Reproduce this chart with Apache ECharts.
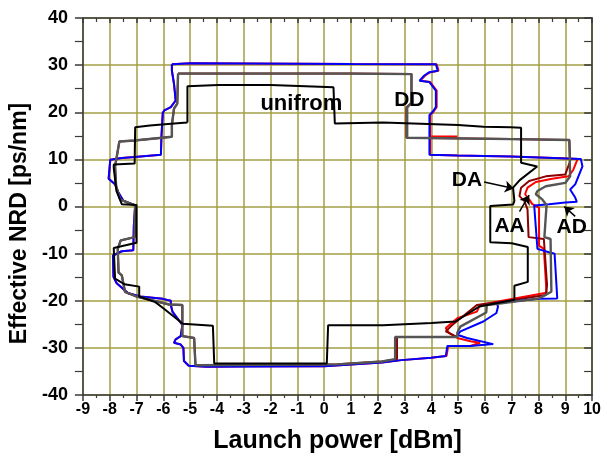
<!DOCTYPE html>
<html>
<head>
<meta charset="utf-8">
<script src="https://cdn.jsdelivr.net/npm/echarts@6/dist/echarts.min.js"></script>
<style>
  html, body { margin: 0; padding: 0; background: #ffffff; }
  #chart { width: 604px; height: 459px; }
</style>
</head>
<body>
<div id="chart"></div>
<script>
// Axis ranges
const xRange = [-9, 10];
const yRange = [-40, 40];

// Contour of the usable region for each dispersion map: [launch power dBm, NRD ps/nm]
const uniformCurve = [
  [-5.1,17.8],[-5.1,25.5],[-3.95,25.8],[-2.0,25.8],[-1.95,25.5],[0.35,25.3],[0.4,17.6],
  [2.2,17.8],[5.0,17.3],[5.95,16.9],[6.95,16.8],[7.35,16.7],[7.35,9.3],[7.95,8.5],
  [7.3,5.6],[7.05,4.0],[7.1,1.2],[7.05,0.4],[6.2,0.1],[6.2,-7.6],[7.0,-7.8],[7.6,-8.6],
  [7.6,-16.0],[7.1,-16.8],[7.1,-19.8],[5.8,-21.2],[4.9,-24.4],[4.0,-24.7],[2.2,-25.2],
  [0.15,-25.2],[0.1,-33.3],[-4.1,-33.3],[-4.15,-25.3],[-5.27,-24.9],[-6.0,-21.6],
  [-6.3,-20.3],[-6.9,-19.1],[-6.9,-17.0],[-7.45,-16.5],[-7.8,-15.3],[-7.85,-8.8],
  [-7.0,-7.7],[-7.0,0.3],[-7.55,0.5],[-7.75,3.3],[-7.85,8.2],[-7.85,8.9],[-7.07,9.1],
  [-7.05,16.8],[-6.5,17.2],[-5.6,17.6],[-5.1,17.8]
];

const ddCurve = [
  [-5.45,28.2],[1.0,28.2],[3.26,28.1],[3.26,22.0],[3.1,21.0],[3.1,14.6],[6.98,14.3],
  [9.15,14.1],[9.18,6.4],[9.0,5.0],[8.27,4.3],[7.96,3.3],[7.9,2.6],[8.14,1.5],[8.3,0.3],
  [8.22,-6.5],[8.45,-6.9],[8.48,-18.1],[8.02,-19.5],[6.55,-20.6],[6.07,-20.9],
  [6.05,-22.5],[5.08,-25.5],[4.97,-26.8],[4.97,-27.7],[2.65,-27.7],[2.65,-32.4],
  [2.16,-32.9],[0.5,-33.5],[-4.8,-33.7],[-4.85,-27.9],[-5.29,-27.5],[-5.29,-20.9],
  [-5.78,-20.8],[-7.0,-19.1],[-7.43,-18.1],[-7.55,-14.6],[-7.67,-14.0],[-7.7,-9.0],
  [-7.59,-7.2],[-7.07,-6.5],[-7.05,0.2],[-7.61,1.5],[-7.76,4.3],[-7.8,8.5],
  [-7.64,13.8],[-7.07,14.0],[-5.68,14.8],[-5.68,17.3],[-5.6,20.8],[-5.48,21.8],
  [-5.45,28.2]
];

const daCurve = [
  [-5.45,28.2],[1.0,28.2],[3.26,28.1],[3.26,22.0],[3.07,21.0],[3.07,14.6],[6.98,14.3],
  [9.15,14.1],[9.18,9.6],[9.0,6.8],[8.27,6.4],[7.65,5.4],[7.35,4.0],[7.29,2.2],
  [7.47,1.2],[7.59,-0.6],[7.63,-6.5],[8.2,-6.9],[8.32,-16.7],[8.27,-18.8],[6.5,-20.3],
  [5.7,-20.9],[4.79,-25.1],[4.54,-26.5],[4.97,-27.7],[2.72,-27.7],[2.72,-32.4],
  [2.16,-32.9],[0.5,-33.5],[-4.8,-33.7],[-4.85,-27.9],[-5.29,-27.5],[-5.29,-20.9],
  [-5.78,-20.8],[-7.0,-19.1],[-7.43,-18.1],[-7.55,-14.6],[-7.67,-14.0],[-7.7,-9.0],
  [-7.59,-7.2],[-7.07,-6.5],[-7.05,0.2],[-7.61,1.5],[-7.76,4.3],[-7.8,8.5],
  [-7.64,13.8],[-7.07,14.0],[-5.68,14.8],[-5.68,17.3],[-5.6,20.8],[-5.48,21.8],
  [-5.45,28.2]
];

const adCurve = [
  [-5.68,30.2],[-4.99,30.4],[1.06,30.25],[4.17,30.2],[4.24,28.8],[3.93,28.5],
  [3.74,27.8],[3.56,26.7],[3.93,26.4],[4.17,24.6],[4.17,21.1],[4.05,20.1],[3.93,19.4],
  [3.93,11.0],[4.97,10.8],[6.98,10.6],[9.58,10.1],[9.64,8.5],[9.49,6.4],[9.37,4.7],
  [9.18,3.6],[9.37,1.9],[9.43,1.0],[9.0,0.85],[8.39,0.5],[7.84,0.2],[7.96,-9.0],
  [8.39,-9.7],[8.6,-10.0],[8.7,-19.5],[8.02,-19.6],[6.43,-20.5],[6.49,-21.2],
  [6.43,-22.6],[5.94,-24.4],[5.09,-26.5],[4.97,-27.2],[5.33,-27.9],[6.31,-29.2],
  [5.46,-29.6],[4.6,-29.6],[4.54,-31.7],[3.99,-32.1],[2.89,-32.6],[2.16,-33.1],
  [0.0,-33.9],[-4.38,-34.0],[-5.05,-33.8],[-5.23,-32.8],[-5.25,-30.0],[-5.35,-29.3],
  [-5.6,-28.9],[-5.54,-28.2],[-5.35,-27.5],[-5.29,-25.1],[-5.66,-22.3],[-5.72,-20.9],
  [-5.72,-20.0],[-6.02,-19.6],[-6.86,-19.1],[-7.31,-18.4],[-7.74,-16.3],[-7.86,-14.9],
  [-7.88,-10.4],[-7.55,-9.5],[-7.12,-9.3],[-7.1,-4.1],[-7.05,0.3],[-7.12,0.5],
  [-7.49,1.2],[-7.67,2.9],[-7.8,4.7],[-8.04,5.9],[-7.98,9.9],[-7.55,10.3],[-7.07,10.5],
  [-6.09,11.0],[-6.07,14.8],[-6.02,19.9],[-5.96,20.4],[-5.72,21.1],[-5.54,22.5],
  [-5.6,26.0],[-5.68,28.8],[-5.68,30.2]
];

const aaCurve = [
  [-5.68,30.2],[-4.99,30.4],[1.06,30.25],[4.2,30.2],[4.27,28.8],[3.96,28.5],
  [3.77,27.8],[3.59,26.7],[3.96,26.4],[4.2,24.6],[4.2,21.1],[4.08,20.1],[3.96,19.4],
  [3.96,14.85],[4.97,14.85],[3.96,14.8],[3.96,11.0],[4.97,10.8],[6.98,10.6],
  [9.15,10.2],[9.46,10.1],[9.3,7.8],
  [9.12,6.4],[8.51,5.9],[7.9,5.2],[7.59,4.0],[7.5,2.6],[7.65,1.5],[7.77,0.5],
  [8.02,-0.3],[8.02,-8.3],[8.2,-9.0],[8.3,-18.3],[6.43,-20.2],[5.82,-20.9],[5.7,-22.3],
  [4.97,-23.7],[4.54,-25.8],[4.66,-26.8],[4.97,-27.9],[5.46,-28.6],[5.82,-28.9],
  [5.46,-29.6],[4.63,-29.6],[4.57,-31.7],[3.99,-32.1],[2.89,-32.6],[2.16,-33.1],
  [0.0,-33.9],[-2.2,-33.85],[-4.38,-34.0],[-5.05,-33.8],[-5.23,-32.8],[-5.25,-30.0],
  [-5.35,-29.3],[-5.6,-28.9],[-5.54,-28.2],[-5.35,-27.5],[-5.29,-25.1],[-5.66,-22.3],
  [-5.72,-20.9],[-5.72,-20.0],[-6.02,-19.6],[-6.86,-19.1],[-7.31,-18.4],[-7.74,-16.3],
  [-7.86,-14.9],[-7.88,-10.4],[-7.55,-9.5],[-7.12,-9.3],[-7.1,-4.1],[-7.05,0.3],
  [-7.12,0.5],[-7.49,1.2],[-7.67,2.9],[-7.8,4.7],[-8.04,5.9],[-7.98,9.9],[-7.55,10.3],
  [-7.07,10.5],[-6.09,11.0],[-6.07,14.8],[-6.02,19.9],[-5.96,20.4],[-5.72,21.1],
  [-5.54,22.5],[-5.6,26.0],[-5.68,28.8],[-5.68,30.2]
];

// Text annotations: [label, x, y, font size]
const annotations = [
  ['unifrom', -0.85, 21.7, 22],
  ['DD', 3.18, 22.5, 21],
  ['DA', 5.33, 5.6, 21],
  ['AA', 6.92, -4.1, 21],
  ['AD', 9.24, -4.4, 21]
];

// Arrows pointing from annotations to curves: [[x0, y0], [x1, y1]]
const arrows = [
  [[5.97, 5.2], [7.08, 3.8]],
  [[7.29, -1.1], [7.65, 2.4]],
  [[9.37, -2.1], [8.96, 0.0]]
];

const fontFamily = 'Arial, "Liberation Sans", sans-serif';
const gridColor = '#a39e45';
const axisColor = '#3a3a3a';
const tickFont = { fontFamily: fontFamily, fontWeight: 'bold', color: '#000' };

function curveSeries(data, color, width) {
  return {
    type: 'line',
    data: data,
    showSymbol: false,
    symbol: 'none',
    smooth: false,
    silent: true,
    lineStyle: { color: color, width: width },
    z: 3
  };
}

const chart = echarts.init(document.getElementById('chart'), null, { renderer: 'canvas' });

chart.setOption({
  animation: false,
  backgroundColor: '#ffffff',
  grid: { left: 75.5, right: 10, top: 18, bottom: 60, containLabel: false },
  xAxis: [
    {
      type: 'value', position: 'bottom', min: xRange[0], max: xRange[1], interval: 1,
      axisLine: { show: true, onZero: false, lineStyle: { color: axisColor, width: 1.5 } },
      axisTick: { show: true, inside: false, length: 6, lineStyle: { color: axisColor, width: 1.5 } },
      minorTick: { show: true, splitNumber: 2, length: 3, lineStyle: { color: axisColor, width: 1.2 } },
      axisLabel: Object.assign({ fontSize: 16, margin: 7 }, tickFont),
      splitLine: { show: true, lineStyle: { color: gridColor, width: 1.5 } },
      name: 'Launch power [dBm]', nameLocation: 'middle', nameGap: 34,
      nameTextStyle: { fontFamily: fontFamily, fontWeight: 'bold', fontSize: 25, color: '#000' }
    },
    {
      type: 'value', position: 'top', min: xRange[0], max: xRange[1], interval: 1,
      axisLine: { show: true, onZero: false, lineStyle: { color: axisColor, width: 1.5 } },
      axisTick: { show: true, inside: true, length: 5, lineStyle: { color: axisColor, width: 1.5 } },
      minorTick: { show: true, splitNumber: 2, length: 4, lineStyle: { color: axisColor, width: 1.2 } },
      axisLabel: { show: false },
      splitLine: { show: false }
    }
  ],
  yAxis: [
    {
      type: 'value', position: 'left', min: yRange[0], max: yRange[1], interval: 10,
      axisLine: { show: true, onZero: false, lineStyle: { color: axisColor, width: 1.5 } },
      axisTick: { show: true, inside: false, length: 8, lineStyle: { color: axisColor, width: 1.5 } },
      minorTick: { show: true, splitNumber: 2, length: 8, lineStyle: { color: axisColor, width: 1.2 } },
      axisLabel: Object.assign({ fontSize: 18, margin: 15 }, tickFont),
      splitLine: { show: true, lineStyle: { color: gridColor, width: 1.5 } },
      name: 'Effective NRD [ps/nm]', nameLocation: 'middle', nameGap: 46,
      nameTextStyle: { fontFamily: fontFamily, fontWeight: 'bold', fontSize: 23, color: '#000', padding: [0, 34, 0, 0] }
    },
    {
      type: 'value', position: 'right', min: yRange[0], max: yRange[1], interval: 10,
      axisLine: { show: true, onZero: false, lineStyle: { color: axisColor, width: 1.5 } },
      axisTick: { show: true, inside: true, length: 8, lineStyle: { color: axisColor, width: 1.5 } },
      minorTick: { show: true, splitNumber: 2, length: 8, lineStyle: { color: axisColor, width: 1.2 } },
      axisLabel: { show: false },
      splitLine: { show: false }
    }
  ],
  series: [
    curveSeries(aaCurve, '#ff0000', 2),
    curveSeries(daCurve, '#8b0000', 2),
    curveSeries(adCurve, '#0000ff', 2),
    curveSeries(ddCurve, '#555555', 2.4),
    curveSeries(uniformCurve, '#000000', 2),
    {
      type: 'lines',
      coordinateSystem: 'cartesian2d',
      polyline: false,
      silent: true,
      symbol: ['none', 'arrow'],
      symbolSize: [0, 9],
      lineStyle: { color: '#000000', width: 1.5, opacity: 1, curveness: 0 },
      data: arrows.map(a => ({ coords: a })),
      z: 5
    },
    {
      type: 'scatter',
      silent: true,
      symbolSize: 0,
      itemStyle: { opacity: 1 },
      data: annotations.map(a => ({
        name: a[0],
        value: [a[1], a[2]],
        label: { fontSize: a[3] }
      })),
      label: {
        show: true,
        position: 'inside',
        formatter: p => p.name,
        fontFamily: fontFamily,
        fontWeight: 'bold',
        fontSize: 21,
        color: '#000000',
        opacity: 1
      },
      z: 6
    }
  ]
});
</script>
</body>
</html>
